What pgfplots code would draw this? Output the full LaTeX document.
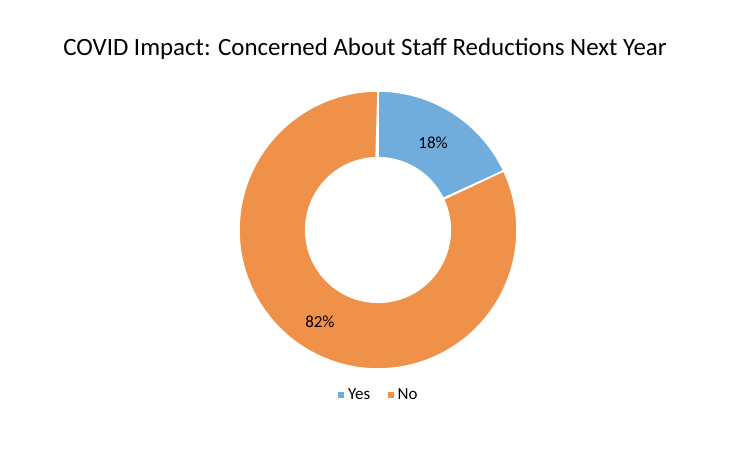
\documentclass[border=0pt]{standalone}
\usepackage{pgfplots}
\usepackage{pgfplotstable}
\pgfplotsset{compat=1.18}
\usepackage{fontspec}
\setmainfont{Carlito}

\definecolor{yescol}{HTML}{70ADDC}
\definecolor{nocol}{HTML}{F0914A}

\pgfplotstableread{
label value
Yes   18
No    82
}\shares

\pgfplotstablegetelem{0}{value}\of\shares \let\vyes\pgfplotsretval
\pgfplotstablegetelem{1}{value}\of\shares \let\vno\pgfplotsretval

% donut ring: outer radius 1, inner radius 0.52
\def\rin{0.52}

\begin{document}
\begin{tikzpicture}
\path[use as bounding box] (0,0) rectangle (736bp,451bp);
\node[font=\fontsize{25}{30}\selectfont] at (365bp,402bp) {COVID Impact: Concerned About Staff Reductions Next Year};
\begin{axis}[
    at={(378bp,221bp)}, anchor=center,
    x=139bp, y=139bp,
    xmin=-1.05, xmax=1.05, ymin=-1.05, ymax=1.05,
    hide axis, clip=false,
    legend style={at={(0.5,-0.065)}, anchor=center, draw=none,
        legend columns=2, font=\fontsize{17}{20}\selectfont,
        /tikz/every even column/.append style={column sep=14bp}},
    legend image code/.code={\fill[#1] (0bp,-4bp) rectangle (8bp,4bp);},
]
% slice Yes: from 90 deg clockwise
\pgfmathsetmacro{\aA}{90}
\pgfmathsetmacro{\sA}{3.6*\vyes}
\addplot[fill=yescol, draw=white, line width=1.6pt, domain=0:2, samples=201, variable=\t]
  ({(\t<=1 ? 1 : \rin)*cos(\t<=1 ? \aA-\sA*\t : \aA-\sA*(2-\t))},
   {(\t<=1 ? 1 : \rin)*sin(\t<=1 ? \aA-\sA*\t : \aA-\sA*(2-\t))}) -- cycle;
\addlegendentry{Yes}
% slice No
\pgfmathsetmacro{\aB}{90-3.6*\vyes}
\pgfmathsetmacro{\sB}{3.6*\vno}
\addplot[fill=nocol, draw=white, line width=1.6pt, domain=0:2, samples=401, variable=\t]
  ({(\t<=1 ? 1 : \rin)*cos(\t<=1 ? \aB-\sB*\t : \aB-\sB*(2-\t))},
   {(\t<=1 ? 1 : \rin)*sin(\t<=1 ? \aB-\sB*\t : \aB-\sB*(2-\t))}) -- cycle;
\addlegendentry{No}
\pgfmathsetmacro{\mA}{\aA-\sA/2}
\pgfmathsetmacro{\mB}{\aB-\sB/2}
\node[font=\fontsize{17}{20}\selectfont] at (axis cs:{0.74*cos(\mA)},{0.74*sin(\mA)}) {\vyes\%};
\node[font=\fontsize{17}{20}\selectfont] at (axis cs:{0.78*cos(\mB)},{0.78*sin(\mB)}) {\vno\%};
\end{axis}
\end{tikzpicture}
\end{document}
